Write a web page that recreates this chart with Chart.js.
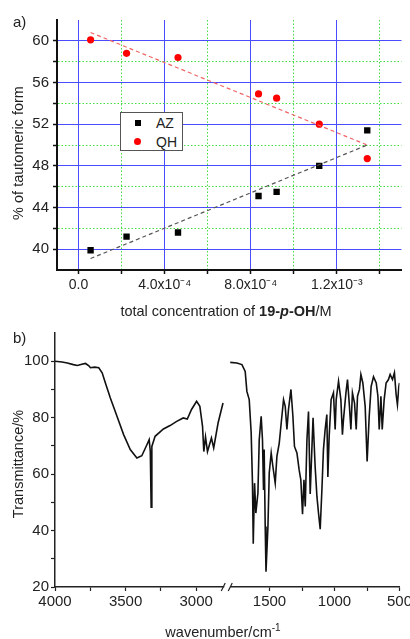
<!DOCTYPE html>
<html>
<head>
<meta charset="utf-8">
<script src="https://cdn.jsdelivr.net/npm/chart.js@4.4.1/dist/chart.umd.min.js"></script>
<style>
  body { margin: 0; background: #fff; font-family: 'Liberation Sans', Arial, sans-serif; color: #222; }
  #wrap { position: relative; width: 410px; height: 639px; overflow: hidden; }
  canvas { position: absolute; left: 0; }
  #chartA { top: 0; }
  #chartB { top: 320px; }
  .panel { position: absolute; left: 13px; font-size: 15px; line-height: 17px; }
  .xtitle { position: absolute; font-size: 14.5px; line-height: 17px; white-space: nowrap; transform: translateX(-50%); }
  .xtitle sup { font-size: 10px; vertical-align: 6px; line-height: 0; }
  .ytitle { position: absolute; font-size: 14.5px; line-height: 17px; white-space: nowrap;
            transform: translate(-50%, -50%) rotate(-90deg); }
  #legendA { position: absolute; left: 120px; top: 112px; width: 61px; height: 37px; border: 1px solid #555; background: #fff; font-size: 14px; }
  #legendA .mk { position: absolute; }
  #legendA .tx { position: absolute; left: 35px; line-height: 16px; }
</style>
</head>
<body>
<div id="wrap">
  <canvas id="chartA" width="410" height="320"></canvas>
  <canvas id="chartB" width="410" height="319"></canvas>
  <div class="panel" style="top:13px">a)</div>
  <div class="panel" style="top:329px">b)</div>
  <div id="legendA">
    <span class="mk" style="left:14px;top:7px;width:6px;height:6px;background:#000"></span>
    <span class="tx" style="top:2px">AZ</span>
    <span class="mk" style="left:13px;top:25px;width:7px;height:7px;border-radius:50%;background:#f00"></span>
    <span class="tx" style="top:21px">QH</span>
  </div>
  <div class="ytitle" style="left:18px;top:153px">% of tautomeric form</div>
  <div class="xtitle" style="left:226px;top:303px">total concentration of <b>19-<i>p</i>-OH</b>/M</div>
  <div class="ytitle" style="left:18px;top:464px">Transmittance/%</div>
  <div class="xtitle" style="left:223px;top:624px">wavenumber/cm<sup>-1</sup></div>
</div>
<script>
// a) tautomer fractions vs concentration
const conc = [5.6e-5, 2.23e-4, 4.62e-4, 8.36e-4, 9.2e-4, 1.118e-3, 1.341e-3];
const pctAZ = [39.9, 41.2, 41.6, 45.1, 45.5, 48.0, 51.4];
const pctQH = [60.1, 58.8, 58.4, 54.9, 54.5, 52.0, 48.7];
const fitConc = [5.6e-5, 1.341e-3];
const fitAZ = [39.1, 50.0];
const fitQH = [60.8, 50.0];
const concTicks = [0, 2e-4, 4e-4, 6e-4, 8e-4, 1e-3, 1.2e-3, 1.4e-3];
const concTickLabels = ['0.0', '', '4.0x10⁻⁴', '', '8.0x10⁻⁴', '', '1.2x10⁻³', ''];
const pctTicks = [40, 42, 44, 46, 48, 50, 52, 54, 56, 58, 60];
const pctTickLabels = ['40', '', '44', '', '48', '', '52', '', '56', '', '60'];

// b) IR spectrum, two pieces of the broken wavenumber axis
const wnHigh = [4000, 3950, 3913, 3870, 3842, 3810, 3784, 3760, 3749, 3720, 3690, 3666, 3643, 3608, 3561,
  3514, 3467, 3420, 3385, 3349, 3333, 3325, 3319, 3314, 3291, 3232, 3185, 3138, 3092, 3063, 3033,
  2997, 2974, 2955, 2946, 2934, 2920, 2892, 2876, 2845, 2810];
const tHigh = [100, 99.7, 99.4, 98.8, 98.5, 98.9, 99.2, 98.4, 97.7, 97.9, 97.7, 95.9, 92.3, 87, 80.5,
  74, 68.7, 65.7, 66.5, 70.4, 72.2, 68, 48.3, 69.8, 73.4, 76, 77.2, 78.7, 79.9, 79.5, 82.9,
  85.8, 84, 76.9, 68, 73.2, 68, 72.8, 69.3, 78.1, 85.2];
const wnLow = [1802, 1751, 1712, 1687, 1674, 1656, 1641, 1631, 1625, 1615, 1605, 1589, 1579, 1564, 1554,
  1546, 1541, 1533, 1527, 1512, 1502, 1487, 1474, 1456, 1443, 1425, 1410, 1392, 1379, 1366, 1354,
  1335, 1320, 1308, 1289, 1272, 1259, 1246, 1235, 1225, 1212, 1200, 1187, 1165, 1149, 1135, 1123,
  1110, 1097, 1085, 1072, 1059, 1051, 1041, 1026, 1008, 995, 987, 969, 951, 939, 931, 912, 900,
  885, 874, 862, 846, 833, 823, 808, 797, 782, 764, 749, 733, 718, 700, 679, 666, 656, 643, 633,
  618, 603, 585, 572, 554, 539, 526, 516, 505, 500];
const tLow = [99.6, 99.4, 98.8, 96.4, 89.3, 86.4, 74.6, 56.8, 35.3, 56.8, 46.2, 53.3, 72.2, 80.5, 72.2,
  54.4, 68.7, 41.4, 25.4, 41.4, 60.4, 67.5, 62.7, 56.8, 66.3, 71, 78.1, 86.4, 84, 75.8, 82.9,
  90, 80.5, 69.8, 67.5, 61.5, 58, 45.8, 58, 48.5, 72.2, 82.2, 53, 80, 62.7, 52, 46.2,
  40.5, 54.4, 68.7, 75.8, 81.1, 59, 73.4, 86.4, 88.8, 75.8, 86.4, 92.9, 86.4, 74, 79.3, 88.8, 93.5,
  84, 75.8, 88.8, 85.2, 75.8, 87.6, 90, 95.3, 92.3, 84, 64.5, 80.5, 91.1, 94.5, 92.3, 87.6, 75.8, 87.6, 75.8,
  86.4, 92.3, 93.5, 95.3, 93.5, 95.9, 88.2, 84.6, 91.1, 92.3];
const wnTicksHigh = [4000, 3750, 3500, 3250, 3000];
const wnLabelsHigh = ['4000', '', '3500', '', '3000'];
const wnTicksLow = [1500, 1250, 1000, 750, 500];
const wnLabelsLow = ['1500', '', '1000', '', '500'];
const tTicks = [20, 30, 40, 50, 60, 70, 80, 90, 100];
const tTickLabels = ['20', '', '40', '', '60', '', '80', '', '100'];

Chart.defaults.font.family = "'Liberation Sans', Arial, sans-serif";
Chart.defaults.color = '#222';

function pairs(xs, ys) {
    return xs.map((x, i) => ({ x: x, y: ys[i] }));
}

function fixedTicks(values) {
    return scale => { scale.ticks = values.map(v => ({ value: v })); };
}

const BLUE = '#4b4bff';
const GREEN = '#44dd44';

// grid for panel a: blue solid at labelled ticks, green dotted in between
function gridA(labels) {
    return {
        color: ctx => labels[ctx.index] ? BLUE : GREEN,
        lineWidth: 1,
        tickColor: '#111',
        tickWidth: 1.5,
        tickLength: 4
    };
}
function borderA(labels) {
    return {
        color: '#111',
        width: 2,
        dash: ctx => (ctx.type === 'tick' && !labels[ctx.index]) ? [1.5, 2] : []
    };
}

new Chart(document.getElementById('chartA'), {
    type: 'scatter',
    data: {
        datasets: [
            { label: 'AZ fit', data: pairs(fitConc, fitAZ), showLine: true, borderColor: '#555',
              borderDash: [4, 3], borderWidth: 1.2, pointRadius: 0 },
            { label: 'QH fit', data: pairs(fitConc, fitQH), showLine: true, borderColor: '#f06565',
              borderDash: [4, 3], borderWidth: 1.2, pointRadius: 0 },
            { label: 'AZ', data: pairs(conc, pctAZ), pointStyle: 'rect', pointRadius: 4.5,
              backgroundColor: '#000', borderColor: '#000', borderWidth: 0 },
            { label: 'QH', data: pairs(conc, pctQH), pointStyle: 'circle', pointRadius: 3.6,
              backgroundColor: '#ff0000', borderColor: '#ff0000', borderWidth: 0 }
        ]
    },
    options: {
        responsive: false,
        animation: false,
        layout: { padding: { top: 20, right: 8.5, bottom: 0, left: 0 } },
        plugins: { legend: { display: false }, tooltip: { enabled: false } },
        scales: {
            x: {
                type: 'linear', min: -1e-4, max: 1.5e-3, bounds: 'data',
                afterBuildTicks: fixedTicks(concTicks),
                afterFit: s => { s.height = 50; },
                ticks: { autoSkip: false, maxRotation: 0, padding: 3, font: { size: 14 },
                         callback: (v, i) => concTickLabels[i] },
                grid: gridA(concTickLabels),
                border: borderA(concTickLabels)
            },
            y: {
                type: 'linear', min: 38, max: 62, bounds: 'data',
                afterBuildTicks: fixedTicks(pctTicks),
                afterFit: s => { s.width = 57; },
                ticks: { autoSkip: false, padding: 4, font: { size: 15 },
                         callback: (v, i) => pctTickLabels[i] },
                grid: gridA(pctTickLabels),
                border: borderA(pctTickLabels)
            }
        }
    }
});

// draws the // marks where the two wavenumber pieces meet
const axisBreak = {
    id: 'axisBreak',
    afterDraw(chart) {
        const ctx = chart.ctx;
        const x = chart.scales.xL.right;
        const y = chart.scales.xL.top;
        ctx.save();
        ctx.fillStyle = '#fff';
        ctx.fillRect(x - 3, y - 2, 6, 4);
        ctx.strokeStyle = '#222';
        ctx.lineWidth = 1.2;
        ctx.beginPath();
        ctx.moveTo(x - 6, y + 4); ctx.lineTo(x - 2, y - 4);
        ctx.moveTo(x + 1, y + 4); ctx.lineTo(x + 5, y - 4);
        ctx.stroke();
        ctx.restore();
    }
};

function wnAxis(min, max, ticks, labels) {
    return {
        type: 'linear', position: 'bottom', stack: 'wn', stackWeight: 1,
        reverse: true, min: min, max: max, bounds: 'data',
        afterBuildTicks: fixedTicks(ticks),
        afterFit: s => { s.height = 52; s.paddingRight = 0; s.paddingLeft = 0; },
        ticks: { autoSkip: false, maxRotation: 0, padding: 2, font: { size: 15 },
                 callback: (v, i) => labels[i] },
        grid: { drawOnChartArea: false, tickLength: 4, tickColor: '#222', tickWidth: 1.2 },
        border: { color: '#222', width: 1.5 }
    };
}

new Chart(document.getElementById('chartB'), {
    type: 'scatter',
    data: {
        datasets: [
            { data: pairs(wnHigh, tHigh), xAxisID: 'xL', yAxisID: 'y', showLine: true,
              borderColor: '#111', borderWidth: 1.6, pointRadius: 0 },
            { data: pairs(wnLow, tLow), xAxisID: 'xR', yAxisID: 'y', showLine: true,
              borderColor: '#111', borderWidth: 1.6, pointRadius: 0 }
        ]
    },
    options: {
        responsive: false,
        animation: false,
        layout: { padding: { top: 13, right: 10.5, bottom: 0, left: 0 } },
        plugins: { legend: { display: false }, tooltip: { enabled: false } },
        scales: {
            xL: wnAxis(2780, 4000, wnTicksHigh, wnLabelsHigh),
            xR: wnAxis(500, 1825, wnTicksLow, wnLabelsLow),
            y: {
                type: 'linear', position: 'left', min: 20, max: 110, bounds: 'data',
                afterBuildTicks: fixedTicks(tTicks),
                afterFit: s => { s.width = 55; },
                ticks: { autoSkip: false, padding: 2, font: { size: 15 },
                         callback: (v, i) => tTickLabels[i] },
                grid: { drawOnChartArea: false, tickLength: 4, tickColor: '#222', tickWidth: 1.2 },
                border: { color: '#222', width: 1.5 }
            }
        }
    },
    plugins: [axisBreak]
});
</script>
</body>
</html>
